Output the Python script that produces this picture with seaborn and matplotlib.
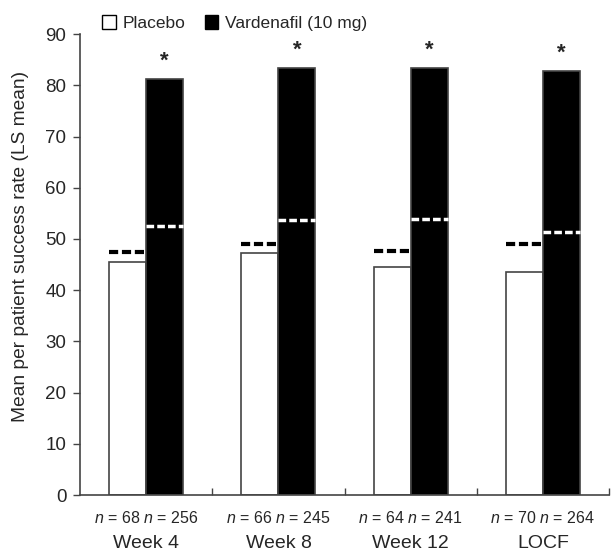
import matplotlib.pyplot as plt
import matplotlib.transforms as mtransforms
import pandas as pd
import seaborn as sns
from matplotlib.patches import Patch

sns.set_theme(style="white")
plt.rcParams['font.family'] = ['Liberation Sans', 'DejaVu Sans']
plt.rcParams['mathtext.fontset'] = 'custom'
plt.rcParams['mathtext.it'] = 'Liberation Sans:italic'
plt.rcParams['mathtext.rm'] = 'Liberation Sans'

visits = ["Week 4", "Week 8", "Week 12", "LOCF"]
placebo = [45.5, 47.3, 44.5, 43.6]
vardenafil = [81.2, 83.4, 83.3, 82.8]
placebo_ref = [47.5, 49.1, 47.7, 49.1]
vardenafil_ref = [52.6, 53.8, 53.9, 51.4]
n_placebo = [68, 66, 64, 70]
n_vardenafil = [256, 245, 241, 264]
groups = ["Placebo", "Vardenafil (10 mg)"]

df = pd.DataFrame({
    "visit": visits * 2,
    "value": placebo + vardenafil,
    "group": [groups[0]] * 4 + [groups[1]] * 4,
})

fig = plt.figure(figsize=(6.12, 5.51), dpi=100)
ax = fig.add_axes([0.131, 0.1016, 0.864, 0.8364])

sns.barplot(data=df, x="visit", y="value", hue="group", hue_order=groups,
            palette=["white", "black"], width=0.56, gap=0, saturation=1,
            edgecolor="#444444", linewidth=1.2, ax=ax, legend=False)

bw = 0.28
for i in range(len(visits)):
    ax.plot([i - bw, i], [placebo_ref[i]] * 2, color="black", lw=3,
            ls=(0, (2.2, 0.9)), solid_capstyle="butt")
    ax.plot([i, i + bw], [vardenafil_ref[i]] * 2, color="white", lw=2.5,
            ls=(0, (2.2, 0.9)), solid_capstyle="butt")
    ax.text(i + bw / 2, vardenafil[i] + 1.5, "*", ha="center", va="bottom",
            fontsize=16, fontweight="bold")

ax.set_xlim(-0.5, 3.5)
ax.set_ylim(0, 90)
ax.set_yticks(range(0, 91, 10))
ax.tick_params(axis="y", labelsize=13.5, length=5, width=1, color="#444444",
               direction="out", left=True, pad=5)
ax.set_ylabel("Mean per patient success rate (LS mean)", fontsize=13.8)
ax.yaxis.set_label_coords(-0.097, 0.54)
ax.set_xlabel("")

ax.set_xticks(range(len(visits)))
ax.set_xticklabels([""] * len(visits))
ax.tick_params(axis="x", length=0)
ax.set_xticks([0.5, 1.5, 2.5, 3.5], minor=True)
ax.tick_params(axis="x", which="minor", direction="in", length=5, width=1,
               color="#444444", bottom=True)

trans = mtransforms.blended_transform_factory(ax.transData, ax.transAxes)
for i in range(len(visits)):
    ax.text(i, -0.0607, f"$n$ = {n_placebo[i]} $n$ = {n_vardenafil[i]}",
            transform=trans, ha="center", va="baseline", fontsize=11.5)
    ax.text(i, -0.115, visits[i], transform=trans, ha="center", va="baseline",
            fontsize=14)

for side in ["top", "right"]:
    ax.spines[side].set_visible(False)
for side in ["left", "bottom"]:
    ax.spines[side].set_color("#444444")
    ax.spines[side].set_linewidth(1.2)

handles = [Patch(facecolor="white", edgecolor="black", label=groups[0]),
           Patch(facecolor="black", edgecolor="black", label=groups[1])]
fig.legend(handles=handles, loc="center left", bbox_to_anchor=(0.155, 0.958),
           ncol=2, frameon=False, fontsize=12.5, handlelength=0.8,
           handleheight=0.8, handletextpad=0.4, columnspacing=1.1,
           borderaxespad=0)

fig.savefig("out.png", dpi=100, facecolor="white")
